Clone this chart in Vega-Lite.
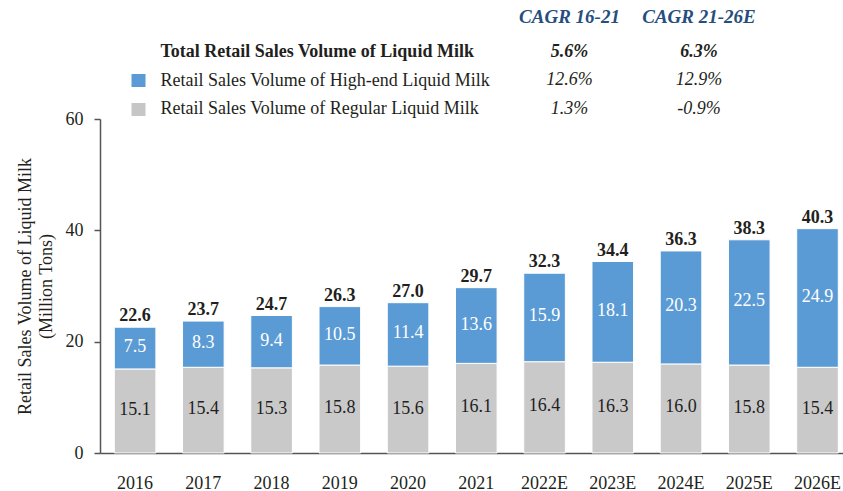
{
  "$schema": "https://vega.github.io/schema/vega-lite/v6.json",
  "background": "white",
  "padding": {"left": 16, "top": 7, "right": 0, "bottom": 0},
  "bounds": "flush",
  "spacing": 0,
  "config": {
    "font": "Liberation Serif",
    "view": {"stroke": null},
    "axis": {"grid": false, "labelFont": "Liberation Serif", "titleFont": "Liberation Serif"},
    "text": {"font": "Liberation Serif"}
  },
  "datasets": {
    "volume": [
      {"year": "2016", "series": "Retail Sales Volume of Regular Liquid Milk", "value": 15.1},
      {"year": "2016", "series": "Retail Sales Volume of High-end Liquid Milk", "value": 7.5},
      {"year": "2017", "series": "Retail Sales Volume of Regular Liquid Milk", "value": 15.4},
      {"year": "2017", "series": "Retail Sales Volume of High-end Liquid Milk", "value": 8.3},
      {"year": "2018", "series": "Retail Sales Volume of Regular Liquid Milk", "value": 15.3},
      {"year": "2018", "series": "Retail Sales Volume of High-end Liquid Milk", "value": 9.4},
      {"year": "2019", "series": "Retail Sales Volume of Regular Liquid Milk", "value": 15.8},
      {"year": "2019", "series": "Retail Sales Volume of High-end Liquid Milk", "value": 10.5},
      {"year": "2020", "series": "Retail Sales Volume of Regular Liquid Milk", "value": 15.6},
      {"year": "2020", "series": "Retail Sales Volume of High-end Liquid Milk", "value": 11.4},
      {"year": "2021", "series": "Retail Sales Volume of Regular Liquid Milk", "value": 16.1},
      {"year": "2021", "series": "Retail Sales Volume of High-end Liquid Milk", "value": 13.6},
      {"year": "2022E", "series": "Retail Sales Volume of Regular Liquid Milk", "value": 16.4},
      {"year": "2022E", "series": "Retail Sales Volume of High-end Liquid Milk", "value": 15.9},
      {"year": "2023E", "series": "Retail Sales Volume of Regular Liquid Milk", "value": 16.3},
      {"year": "2023E", "series": "Retail Sales Volume of High-end Liquid Milk", "value": 18.1},
      {"year": "2024E", "series": "Retail Sales Volume of Regular Liquid Milk", "value": 16.0},
      {"year": "2024E", "series": "Retail Sales Volume of High-end Liquid Milk", "value": 20.3},
      {"year": "2025E", "series": "Retail Sales Volume of Regular Liquid Milk", "value": 15.8},
      {"year": "2025E", "series": "Retail Sales Volume of High-end Liquid Milk", "value": 22.5},
      {"year": "2026E", "series": "Retail Sales Volume of Regular Liquid Milk", "value": 15.4},
      {"year": "2026E", "series": "Retail Sales Volume of High-end Liquid Milk", "value": 24.9}
    ],
    "cagr": [
      {"series": "Total Retail Sales Volume of Liquid Milk", "period": "CAGR 16-21", "cagr": "5.6%"},
      {"series": "Total Retail Sales Volume of Liquid Milk", "period": "CAGR 21-26E", "cagr": "6.3%"},
      {"series": "Retail Sales Volume of High-end Liquid Milk", "period": "CAGR 16-21", "cagr": "12.6%"},
      {"series": "Retail Sales Volume of High-end Liquid Milk", "period": "CAGR 21-26E", "cagr": "12.9%"},
      {"series": "Retail Sales Volume of Regular Liquid Milk", "period": "CAGR 16-21", "cagr": "1.3%"},
      {"series": "Retail Sales Volume of Regular Liquid Milk", "period": "CAGR 21-26E", "cagr": "-0.9%"}
    ]
  },
  "vconcat": [
    {
      "width": 743,
      "height": 89,
      "data": {"name": "cagr"},
      "encoding": {
        "x": {
          "field": "period", "type": "nominal",
          "scale": {"type": "band", "domain": ["CAGR 16-21", "CAGR 21-26E"], "range": [404.75, 663.75], "paddingInner": 0, "paddingOuter": 0},
          "axis": {
            "orient": "top", "title": null, "domain": false, "ticks": false, "tickSize": 0,
            "labelPadding": 8, "labelBaseline": "alphabetic", "labelAngle": 0, "labelFont": "Liberation Serif",
            "labelFontSize": 19, "labelFontWeight": "bold", "labelFontStyle": "italic", "labelColor": "#264d7d"
          }
        },
        "y": {
          "field": "series", "type": "nominal",
          "scale": {"type": "point", "domain": ["Total Retail Sales Volume of Liquid Milk", "Retail Sales Volume of High-end Liquid Milk", "Retail Sales Volume of Regular Liquid Milk"], "padding": 0.5724, "align": 0.679},
          "axis": {
            "title": null, "domain": false, "ticks": true, "tickSize": 14, "tickWidth": 13, "offset": -45,
            "tickColor": {"condition": {"test": "datum.value === 'Retail Sales Volume of High-end Liquid Milk'", "value": "#5B9BD5"}, "value": "#C6C6C7"},
            "tickOpacity": {"condition": {"test": "datum.value === 'Total Retail Sales Volume of Liquid Milk'", "value": 0}, "value": 1},
            "labelAlign": "left", "labelPadding": -29, "labelLimit": 600, "labelFont": "Liberation Serif", "labelFontSize": 18, "labelColor": "#231f20",
            "labelFontWeight": {"condition": {"test": "datum.value === 'Total Retail Sales Volume of Liquid Milk'", "value": "bold"}, "value": "normal"}
          }
        },
        "text": {"field": "cagr", "type": "nominal"}
      },
      "layer": [
        {
          "transform": [{"filter": "datum.series !== 'Total Retail Sales Volume of Liquid Milk'"}],
          "mark": {"type": "text", "font": "Liberation Serif", "fontSize": 18, "fontStyle": "italic", "baseline": "middle", "align": "center", "color": "#231f20"}
        },
        {
          "transform": [{"filter": "datum.series === 'Total Retail Sales Volume of Liquid Milk'"}],
          "mark": {"type": "text", "font": "Liberation Serif", "fontSize": 18, "fontStyle": "italic", "fontWeight": "bold", "baseline": "middle", "align": "center", "color": "#231f20"}
        }
      ]
    },
    {
      "width": 743,
      "height": 334,
      "data": {"name": "volume"},
      "encoding": {
        "x": {
          "field": "year", "type": "ordinal",
          "scale": {"paddingInner": 0.3904, "paddingOuter": 0.1392, "align": 0.753},
          "axis": {
            "title": null, "labelAngle": 0, "ticks": false, "tickSize": 0, "labelPadding": 21, "labelFont": "Liberation Serif",
            "labelFontSize": 18, "labelColor": "#231f20", "domainColor": "#555555", "domainWidth": 1.5
          }
        }
      },
      "layer": [
        {
          "mark": {"type": "bar", "stroke": "white", "strokeWidth": 1},
          "encoding": {
            "y": {
              "field": "value", "type": "quantitative", "stack": "zero",
              "scale": {"domain": [0, 60], "nice": false},
              "title": ["Retail Sales Volume of Liquid Milk", "(Million Tons)"],
              "axis": {
                "values": [0, 20, 40, 60], "tickSize": 6, "tickColor": "#555555", "tickWidth": 1.5,
                "domainColor": "#555555", "domainWidth": 1.5, "labelPadding": 11, "labelFont": "Liberation Serif", "labelFontSize": 18,
                "labelColor": "#231f20", "titleFont": "Liberation Serif", "titleFontSize": 18, "titleFontWeight": "normal", "titleColor": "#231f20",
                "titlePadding": 10, "titleLineHeight": 21
              }
            },
            "color": {
              "field": "series", "type": "nominal",
              "scale": {"domain": ["Retail Sales Volume of High-end Liquid Milk", "Retail Sales Volume of Regular Liquid Milk"], "range": ["#5B9BD5", "#C9C9CA"]},
              "legend": null
            },
            "order": {"field": "series", "sort": "descending"}
          }
        },
        {
          "transform": [
            {"stack": "value", "groupby": ["year"], "sort": [{"field": "series", "order": "descending"}], "as": ["v0", "v1"]},
            {"fold": ["v0", "v1"], "as": ["edge", "pos"]}
          ],
          "mark": {"type": "text", "font": "Liberation Serif", "fontSize": 18, "baseline": "middle", "align": "center", "dy": -1},
          "encoding": {
            "y": {"aggregate": "mean", "field": "pos", "type": "quantitative", "stack": null, "title": ["Retail Sales Volume of Liquid Milk", "(Million Tons)"]},
            "detail": {"field": "series", "type": "nominal"},
            "text": {"field": "value", "type": "quantitative", "format": ".1f"},
            "color": {"condition": {"test": "datum.series === 'Retail Sales Volume of High-end Liquid Milk'", "value": "white"}, "value": "#231f20"}
          }
        },
        {
          "mark": {"type": "text", "font": "Liberation Serif", "fontSize": 18, "fontWeight": "bold", "baseline": "alphabetic", "align": "center", "dy": -6, "color": "#231f20"},
          "encoding": {
            "y": {"aggregate": "sum", "field": "value", "type": "quantitative", "stack": null, "title": ["Retail Sales Volume of Liquid Milk", "(Million Tons)"]},
            "text": {"aggregate": "sum", "field": "value", "type": "quantitative", "format": ".1f"}
          }
        }
      ]
    }
  ]
}
